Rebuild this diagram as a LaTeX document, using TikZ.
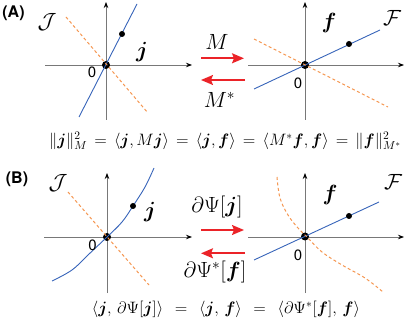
\RequirePackage{fix-cm}
\documentclass[tikz,border=0pt]{standalone}
\usepackage{amsmath,amssymb}
\usepackage{bm}
\usepackage{fontspec}
\setsansfont{TeX Gyre Heros}
\usetikzlibrary{arrows.meta,positioning}
\definecolor{lineblue}{RGB}{55,100,185}
\definecolor{dashorange}{RGB}{245,150,80}
\definecolor{arrowred}{RGB}{235,35,40}
\definecolor{axisgray}{RGB}{120,120,120}
\newcommand{\vj}{\bm{j}}
\newcommand{\vf}{\bm{f}}
\newcommand{\eqA}{\hspace{2.5pt}=\hspace{2.5pt}}
\newcommand{\eqB}{\hspace{7pt}=\hspace{7pt}}

\begin{document}
\begin{tikzpicture}[
  x=1pt, y=-1pt,
  axisline/.style={draw=axisgray, line width=0.8pt, -{Stealth[length=6pt,width=4.5pt,black]}},
  maparrow/.style={draw=arrowred, line width=1.6pt, -{Stealth[length=12pt,width=10pt,inset=2pt]}},
  solline/.style={draw=lineblue, line width=0.9pt},
  adjline/.style={draw=dashorange, line width=1pt, dash pattern=on 3pt off 2.5pt},
  datadot/.style={circle, fill=black, inner sep=0pt, minimum size=6pt},
  zerodot/.style={circle, fill=black, inner sep=0pt, minimum size=8pt},
  panel/.style={font=\sffamily\bfseries\fontsize{16}{18}\selectfont},
  zerolbl/.style={font=\sffamily\fontsize{15}{17}\selectfont},
  biglbl/.style={font=\fontsize{22}{24}\selectfont},
  maplbl/.style={font=\fontsize{22}{24}\selectfont},
  eqn/.style={font=\fontsize{16.5}{18}\selectfont, inner sep=0pt}
]
\useasboundingbox (0,0) rectangle (407,323);

% (A) linear case
\coordinate (OA1) at (106,65);
\coordinate (OA2) at (305,65);
\draw[axisline] (45,65) -- (192,65);
\draw[axisline] (106,120) -- (106,2);
\draw[axisline] (248,65) -- (404,65);
\draw[axisline] (305,120) -- (305,2);
\node[zerodot] (zA1) at (OA1) {};
\node[zerodot] (zA2) at (OA2) {};
\draw[solline] (79,117) -- (137,4);
\draw[adjline] (66,17) -- (148,113);
\draw[solline] (254,89) -- (380,30);
\draw[adjline] (254,39) -- (388,107);
\node[datadot] (jA) at (122,34) {};
\node[datadot] (fA) at (349,44) {};

\node[panel] (labA) at (13.5,13) {(A)};
\node[biglbl] (JA) at (47,22) {$\mathcal{J}$};
\node[biglbl] (FA) at (392,18) {$\mathcal{F}$};
\node[biglbl] (jAl) at (142,52) {$\vj$};
\node[biglbl] (fAl) at (329,23) {$\vf$};
\node[zerolbl] at (92,72.5) {0};
\node[zerolbl] at (298,83) {0};

\coordinate (MfromA) at (201,58.3);
\coordinate (MtoA) at (244,58.3);
\coordinate (MsfromA) at (245,80);
\coordinate (MstoA) at (201,80);
\draw[maparrow] (MfromA) -- (MtoA);
\draw[maparrow] (MsfromA) -- (MstoA);
\node[maplbl] (M) at (217,41.7) {$M$};
\node[maplbl] (Ms) at (219.5,100) {$M^*$};

\node[eqn] (eqA) at (225,141)
  {$\|\vj\|^2_M \eqA \langle \vj, M\vj\rangle \eqA \langle \vj, \vf\rangle
    \eqA \langle M^*\vf, \vf\rangle \eqA \|\vf\|^2_{M^*}$};

% (B) nonlinear case
\coordinate (OB1) at (107,237);
\coordinate (OB2) at (305,236.5);
\draw[axisline] (44,237) -- (192,237);
\draw[axisline] (107,293) -- (107,173);
\draw[axisline] (248,237) -- (404,237);
\draw[axisline] (305,293) -- (305,173);
\node[zerodot] (zB1) at (OB1) {};
\node[zerodot] (zB2) at (OB2) {};
\draw[solline] plot[smooth, tension=0.6] coordinates
  {(52,281) (72,270) (88,255) (107,237) (122,222) (133,206) (145,187) (154,168)};
\draw[adjline] (68,192) -- (149,285);
\draw[solline] (254,260) -- (379,202);
\draw[adjline] plot[smooth, tension=0.6] coordinates
  {(277,177) (280,198) (288,215) (298,228) (307,237) (322,252) (342,265) (365,278) (383,292)};
\node[datadot] (jB) at (133,206) {};
\node[datadot] (fB) at (349,216) {};

\node[panel] (labB) at (17,179.5) {(B)};
\node[biglbl] (JB) at (58,183) {$\mathcal{J}$};
\node[biglbl] (FB) at (393,182) {$\mathcal{F}$};
\node[biglbl] (jBl) at (150,212) {$\vj$};
\node[biglbl] (fBl) at (330,195) {$\vf$};
\node[zerolbl] at (92.5,245) {0};
\node[zerolbl] at (298,255) {0};

\coordinate (PfromB) at (201,230);
\coordinate (PtoB) at (244,230);
\coordinate (PsfromB) at (245,253.3);
\coordinate (PstoB) at (201,253.3);
\draw[maparrow] (PfromB) -- (PtoB);
\draw[maparrow] (PsfromB) -- (PstoB);
\node[maplbl] (Psi) at (217,206.7) {$\partial\Psi[\vj]$};
\node[maplbl] (Psis) at (215,272) {$\partial\Psi^*[\vf]$};

\node[eqn] (eqB) at (226,309)
  {$\langle \vj,\,\partial\Psi[\vj]\rangle \eqB \langle \vj,\,\vf\rangle
    \eqB \langle \partial\Psi^*[\vf],\,\vf\rangle$};
\end{tikzpicture}
\end{document}
